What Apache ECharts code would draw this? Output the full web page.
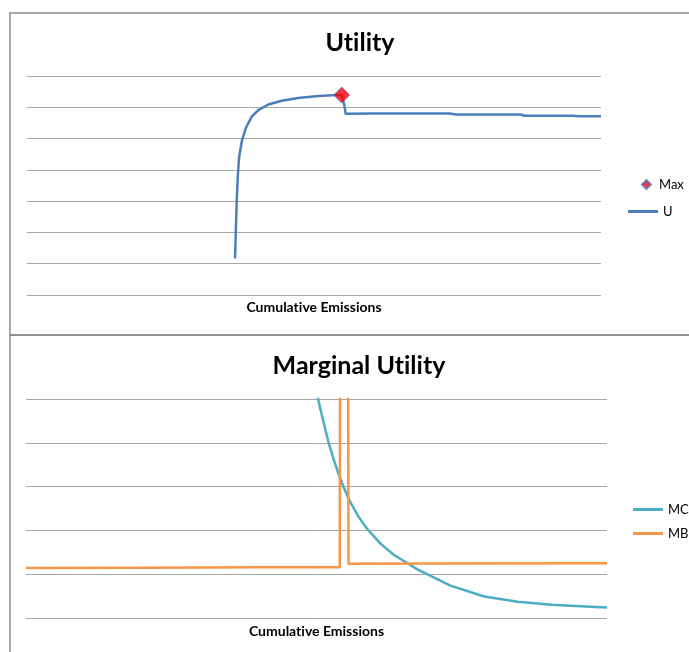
<!DOCTYPE html>
<html>
<head>
<meta charset="utf-8">
<script src="https://cdn.jsdelivr.net/npm/echarts@6/dist/echarts.min.js"></script>
<style>html,body{margin:0;padding:0;background:#fff;}#c{width:689px;height:652px;}</style>
</head>
<body>
<div id="c"></div>
<script>
// Top chart: Utility (x = cumulative emissions, arbitrary units 0-100)
const uX = [36.24, 36.36, 36.53, 36.71, 36.93, 37.40, 38.10, 39.15, 40.30, 42.04, 44.37, 47.26, 50.75, 53.95, 54.83, 55.28, 55.52, 59.93, 73.61, 74.74, 86.06, 86.67, 94.95, 96.17, 100];
const uY = [1.17, 1.92, 2.98, 3.73, 4.37, 4.90, 5.33, 5.70, 5.91, 6.09, 6.21, 6.30, 6.36, 6.39, 6.39, 6.07, 5.79, 5.80, 5.80, 5.77, 5.77, 5.73, 5.73, 5.71, 5.71];
const maxPoint = [54.83, 6.39];

// Bottom chart: Marginal Utility
const mcX = [49.9, 50.31, 50.90, 51.46, 52.03, 52.89, 53.75, 54.61, 55.77, 57.19, 58.64, 60.93, 63.22, 65.52, 67.52, 69.02, 73.06, 78.86, 84.65, 90.45, 96.25, 100];
const mcY = [5.25, 4.98, 4.64, 4.34, 4.03, 3.65, 3.31, 3.00, 2.66, 2.32, 2.05, 1.71, 1.45, 1.26, 1.10, 1.00, 0.74, 0.49, 0.37, 0.30, 0.26, 0.24];
const mbX = [0, 20, 40, 54.0, 54.2, 55.3, 55.5, 70, 100];
const mbY = [1.14, 1.15, 1.16, 1.16, 20, 20, 1.24, 1.245, 1.25];

// zero-width non-joiner keeps the font from forming a "ti" ligature
const titleTop = 'Ut\u200Cility';
const titleBottom = 'Marginal Ut\u200Cility';
const axisTitle = 'Cumulat\u200Cive Emissions';

const zip = (a, b) => a.map((v, i) => [v, b[i]]);

const FONT = 'Lato';
const gridColor = '#a6a6a6';

const chart = echarts.init(document.getElementById('c'), null, {renderer: 'canvas'});
const xBase = (name, gap) => ({
  type: 'value', min: 0, max: 100,
  axisLine: {show: false}, axisTick: {show: false}, axisLabel: {show: false}, splitLine: {show: false},
  name: name, nameLocation: 'middle', nameGap: gap,
  nameTextStyle: {fontFamily: FONT, fontWeight: 'bold', fontSize: 14, color: '#000'}
});
const yBase = (max) => ({
  type: 'value', min: 0, max: max, interval: 1,
  axisLine: {show: false}, axisTick: {show: false}, axisLabel: {show: false},
  splitLine: {show: true, lineStyle: {color: gridColor, width: 1}}
});
const legText = {fontFamily: FONT, fontSize: 13, color: '#000'};

chart.setOption({
  animation: false,
  backgroundColor: '#fff',
  graphic: [
    {type: 'rect', shape: {x: 10, y: 13, width: 700, height: 322}, style: {fill: 'none', stroke: '#8a8a8a', lineWidth: 1.5}, z: -10},
    {type: 'rect', shape: {x: 10, y: 335, width: 700, height: 340}, style: {fill: 'none', stroke: '#8a8a8a', lineWidth: 1.5}, z: -10}
  ],
  title: [
    {text: titleTop, left: 355, top: 25, textAlign: 'center',
     textStyle: {fontFamily: FONT, fontWeight: 'bold', fontSize: 25, color: '#000'}},
    {text: titleBottom, left: 354, top: 348, textAlign: 'center',
     textStyle: {fontFamily: FONT, fontWeight: 'bold', fontSize: 25, color: '#000'}}
  ],
  legend: [
    {orient: 'vertical', left: 636, top: 173, itemWidth: 9, itemHeight: 9,
     data: [{name: 'Max', icon: 'diamond'}], textStyle: Object.assign({padding: [0, 0, 0, 3]}, legText)},
    {orient: 'vertical', left: 623, top: 200, itemWidth: 30, itemHeight: 3,
     data: [{name: 'U', icon: 'rect'}], textStyle: legText},
    {orient: 'vertical', left: 628, top: 498, itemWidth: 30, itemHeight: 3, itemGap: 11,
     data: [{name: 'MC', icon: 'rect'}, {name: 'MB', icon: 'rect'}], textStyle: legText}
  ],
  grid: [
    {left: 27, right: 88, top: 76, bottom: 357},
    {left: 26, right: 82, top: 399, bottom: 34}
  ],
  xAxis: [
    Object.assign(xBase(axisTitle, 5), {gridIndex: 0}),
    Object.assign(xBase(axisTitle, 6), {gridIndex: 1})
  ],
  yAxis: [
    Object.assign(yBase(7), {gridIndex: 0}),
    Object.assign(yBase(5), {gridIndex: 1})
  ],
  series: [
    {name: 'U', type: 'line', xAxisIndex: 0, yAxisIndex: 0, data: zip(uX, uY), showSymbol: false, symbol: 'none',
     smooth: false, lineStyle: {color: '#4a7ebb', width: 2.5, join: 'round'}, itemStyle: {color: '#4a7ebb'}, z: 2},
    {name: 'Max', type: 'scatter', xAxisIndex: 0, yAxisIndex: 0, data: [maxPoint], symbol: 'diamond', symbolSize: 16,
     itemStyle: {color: '#ff0000', borderColor: '#4a7ebb', borderWidth: 1}, z: 3},
    {name: 'MC', type: 'line', xAxisIndex: 1, yAxisIndex: 1, data: zip(mcX, mcY), showSymbol: false, symbol: 'none',
     smooth: false, clip: true, lineStyle: {color: '#4bacc6', width: 2.5, join: 'round'}, itemStyle: {color: '#4bacc6'}, z: 2},
    {name: 'MB', type: 'line', xAxisIndex: 1, yAxisIndex: 1, data: zip(mbX, mbY), showSymbol: false, symbol: 'none',
     clip: true, lineStyle: {color: '#f79646', width: 2.5}, itemStyle: {color: '#f79646'}, z: 3}
  ]
});
</script>
</body>
</html>
